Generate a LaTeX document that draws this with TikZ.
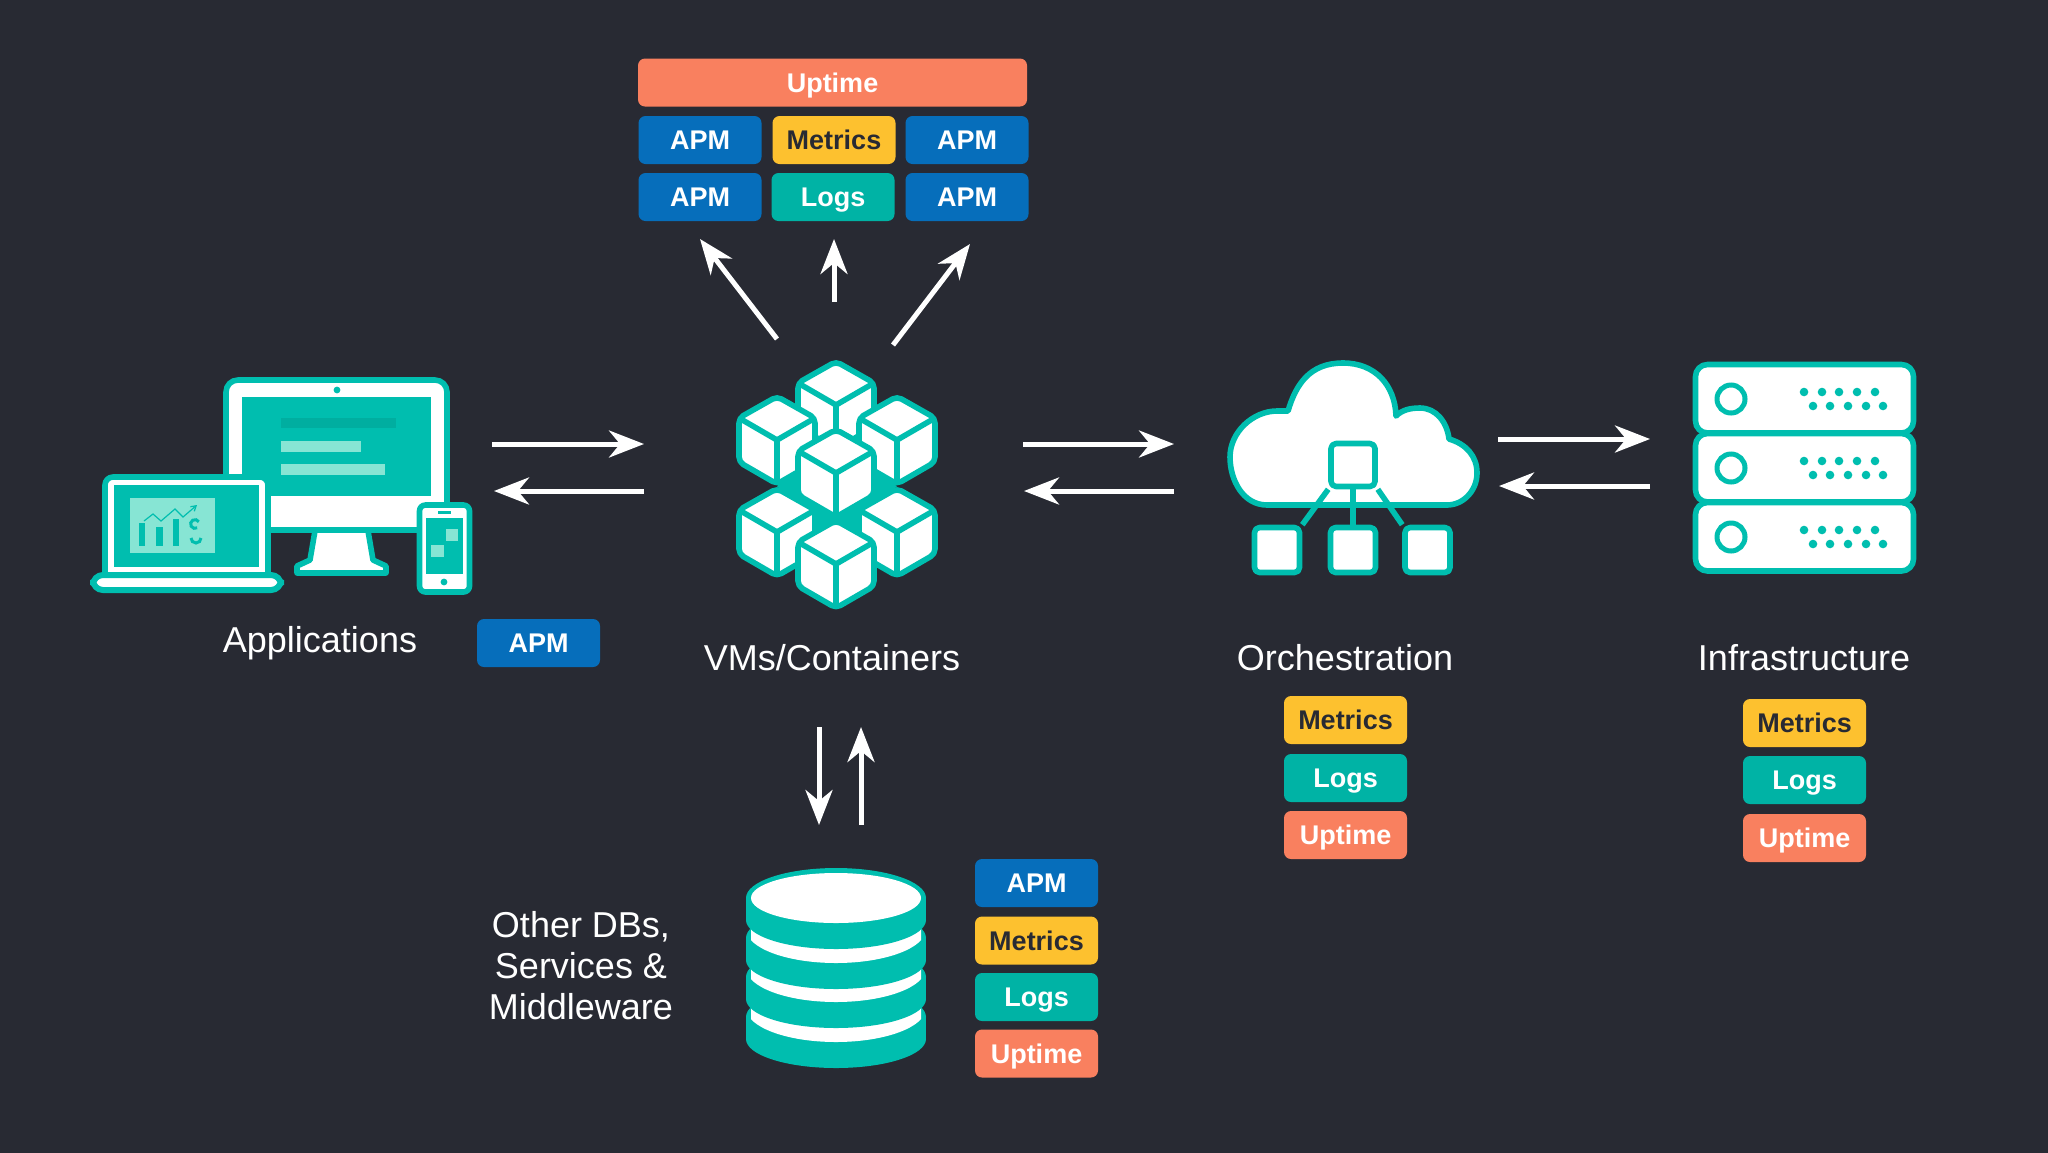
\documentclass[tikz,border=0pt]{standalone}
\usepackage{fontspec}
\setmainfont{Liberation Sans}
\usetikzlibrary{arrows.meta}
\definecolor{bgc}{RGB}{40,42,51}
\definecolor{tl}{RGB}{0,190,175}
\definecolor{tld}{RGB}{0,174,160}
\definecolor{tll}{RGB}{135,229,212}
\definecolor{bluec}{RGB}{6,110,187}
\definecolor{yelc}{RGB}{253,193,47}
\definecolor{orac}{RGB}{249,128,95}
\definecolor{logc}{RGB}{0,179,165}
\tikzset{
  ic/.style={draw=tl,fill=white,line width=2.8pt,line join=round},
  badge/.style={rounded corners=3.5pt,minimum width=61.5pt,minimum height=24pt,inner sep=0pt,text=white,text height=9.6pt,text depth=0pt,font=\fontsize{13.5}{15}\selectfont\bfseries},
  apm/.style={badge,fill=bluec},
  met/.style={badge,fill=yelc,text=bgc},
  lgs/.style={badge,fill=logc},
  upt/.style={badge,fill=orac},
  lab/.style={text=white,font=\fontsize{18}{20.5}\selectfont,align=center,inner sep=0pt},
  lab1/.style={lab,text height=13pt,text depth=0pt},
  arr/.style={draw=white,line width=2.5pt,-{Stealth[length=17.5pt,width=13.5pt,inset=5.5pt]}},
  sq/.style={ic,rounded corners=2.5pt,minimum width=22.5pt,minimum height=22.5pt,inner sep=0pt},
  pics/cube/.style={code={
    \draw[ic,rounded corners=2.5pt] (0,-43.5)--(38,-22)--(38,22)--(0,44)--(-38,22)--(-38,-22)--cycle;
    \draw[draw=tl,line width=2.8pt,line join=round] (-38,-22)--(0,0)--(38,-22) (0,0)--(0,44);
  }}
}
\begin{document}
\begin{tikzpicture}[x=0.5pt,y=-0.5pt]
\useasboundingbox (0,0) rectangle (2048,1152);
\fill[bgc] (-10,-10) rectangle (2058,1162);

% top badges
\node[upt,minimum width=194.5pt] (up) at (832.5,82.5) {Uptime};
\node[apm] (a1) at (700,140) {APM};
\node[met] (m1) at (834,140) {Metrics};
\node[apm] (a2) at (967,140) {APM};
\node[apm] (a3) at (700,197) {APM};
\node[lgs] (l1) at (833,197) {Logs};
\node[apm] (a4) at (967,197) {APM};

% up arrows
\coordinate (t1) at (777,339); \coordinate (h1) at (700,239);
\coordinate (t2) at (834,302); \coordinate (h2) at (834,239);
\coordinate (t3) at (893,345); \coordinate (h3) at (970,244);
\draw[arr] (t1)--(h1);
\draw[arr] (t2)--(h2);
\draw[arr] (t3)--(h3);

% monitor
\draw[ic] (316,525)--(310,560)--(297,566)--(297,573)--(386,573)--(386,566)--(373,560)--(367,525)--cycle;
\draw[ic,rounded corners=6pt] (226,380) rectangle (447,530);
\fill[tl] (242,397) rectangle (431,496);
\fill[tl] (337,390) circle (1.7pt);
\fill[tld] (281,418) rectangle (396,428);
\fill[tll] (281,441) rectangle (361,452);
\fill[tll] (281,464) rectangle (385,475);
% laptop
\draw[ic,rounded corners=4pt] (105,477) rectangle (268,590);
\fill[tl] (114,485) rectangle (259,567);
\fill[tll] (130,498) rectangle (215,553);
\fill[tl] (139,523) rectangle (145,546);
\fill[tl] (156,527) rectangle (163,546);
\fill[tl] (173,519) rectangle (179,546);
\draw[tl,line width=0.6pt,-{Straight Barb[length=2.5pt,width=3pt]}] (144,521)--(153,514)--(161,521)--(175,509)--(183,517)--(197,505);
\draw[tl,line width=1.5pt] (198.8,521.8) arc[start angle=30,end angle=300,radius=2.2pt];
\draw[tl,line width=1.5pt] (191,538) arc[start angle=180,end angle=360,radius=2.5pt];
\draw[draw=tl,fill=white,line width=3pt,rounded corners=5pt] (93,575) rectangle (281,590);
% phone
\draw[ic,rounded corners=3pt] (419.5,505) rectangle (469.5,592);
\fill[tl] (426,518) rectangle (463,574);
\fill[tl] (438,511) rectangle (451,514);
\fill[tl] (444,582) circle (1.7pt);
\fill[tll] (446,529) rectangle (458,541);
\fill[tll] (431,545) rectangle (444,557);
\coordinate (app) at (320,639);
\node[lab1] (appl) at (app) {Applications};
\node[apm] (a5) at (538.5,643) {APM};

% arrows app - vm
\coordinate (p1) at (492,444); \coordinate (p2) at (644,444);
\coordinate (p3) at (644,491); \coordinate (p4) at (494,491);
\draw[arr] (p1)--(p2);
\draw[arr] (p3)--(p4);

% cubes
\pic at (836,405) {cube};
\pic at (777,440) {cube};
\pic at (897,440) {cube};
\fill[tl] (777,486)--(798,473)--(875,473)--(897,486)--(875,510)--(858,530)--(813,530)--(798,510)--cycle;
\pic at (777,532) {cube};
\pic at (897,532) {cube};
\pic at (836,473) {cube};
\pic at (836,564) {cube};
\node[lab1] (vm) at (832,657) {VMs/Containers};

% arrows vm - orch
\coordinate (q1) at (1023,444); \coordinate (q2) at (1174,444);
\coordinate (q3) at (1174,491); \coordinate (q4) at (1024,491);
\draw[arr] (q1)--(q2);
\draw[arr] (q3)--(q4);

% cloud
\draw[ic] (1267,505) .. controls (1243,505) and (1230,480) .. (1230,457)
  .. controls (1230,432) and (1253,411) .. (1277,411) -- (1288,411)
  .. controls (1296,384) and (1310,363) .. (1343,363)
  .. controls (1375,363) and (1395,385) .. (1396,416)
  .. controls (1402,410) and (1410,408) .. (1420,408)
  .. controls (1436,408) and (1447,422) .. (1449,439)
  .. controls (1466,444) and (1477,456) .. (1477,473)
  .. controls (1477,491) and (1463,505) .. (1447,505) -- cycle;
\node[sq,minimum width=22pt,minimum height=21.5pt] (cc) at (1353,465) {};
\node[sq] (cl) at (1277,550) {};
\node[sq] (cm) at (1353,550) {};
\node[sq] (cr) at (1427.5,550) {};
\draw[tl,line width=2.8pt] (cc.south west)--(cl.north east);
\draw[tl,line width=2.8pt] (cc.south)--(cm.north);
\draw[tl,line width=2.8pt] (cc.south east)--(cr.north west);
\node[lab1] (orch) at (1345,657) {Orchestration};
\node[met] (m2) at (1345.5,720) {Metrics};
\node[lgs] (l2) at (1345.5,778) {Logs};
\node[upt] (u2) at (1345.5,835) {Uptime};

% arrows orch - infra
\coordinate (r1) at (1498,439); \coordinate (r2) at (1650,439);
\coordinate (r3) at (1650,486); \coordinate (r4) at (1499,486);
\draw[arr] (r1)--(r2);
\draw[arr] (r3)--(r4);

% servers
\foreach \dy in {0,69,138}{
  \draw[ic,rounded corners=6pt] (1695.5,{364.5+\dy}) rectangle (1913.5,{433+\dy});
  \draw[draw=tl,line width=2.5pt] (1731,{399+\dy}) circle (7pt);
  \foreach \xx in {1804,1822,1839,1857,1875}{\fill[tl] (\xx,{392+\dy}) circle (2.15pt);}
  \foreach \xx in {1813,1830,1848,1866,1883}{\fill[tl] (\xx,{406+\dy}) circle (2.15pt);}
}
\node[lab1] (inf) at (1804,657) {Infrastructure};
\node[met] (m3) at (1804.5,723) {Metrics};
\node[lgs] (l3) at (1804.5,780) {Logs};
\node[upt] (u3) at (1804.5,838) {Uptime};

% vertical arrows
\coordinate (d1) at (819,727); \coordinate (d2) at (819,825);
\coordinate (e1) at (861,825); \coordinate (e2) at (861,727);
\draw[arr] (d1)--(d2);
\draw[arr] (e1)--(e2);

% database
\foreach \c in {1017,977,938}{
  \fill[tl] (836,\c) ellipse [x radius=45pt,y radius=15pt];
  \fill[tl] (746,\c) rectangle (926,{\c+22});
  \fill[tl] (836,{\c+22}) ellipse [x radius=45pt,y radius=14.5pt];
  \begin{scope}
    \clip[rounded corners=2pt] (751,{\c-45}) rectangle (921,{\c+30});
    \fill[white] (836,{\c-9}) ellipse [x radius=45pt,y radius=17pt];
  \end{scope}
}
\fill[tl] (836,898) ellipse [x radius=45pt,y radius=15pt];
\fill[tl] (746,898) rectangle (926,920);
\fill[tl] (836,920) ellipse [x radius=45pt,y radius=14.5pt];
\fill[white] (836,898) ellipse [x radius=42.5pt,y radius=12.5pt];
\node[lab] (db) at (581,966) {Other DBs,\\Services \&\\Middleware};
\node[apm] (a6) at (1036.5,883) {APM};
\node[met] (m4) at (1036.5,940.5) {Metrics};
\node[lgs] (l4) at (1036.5,997) {Logs};
\node[upt] (u4) at (1036.5,1053.5) {Uptime};
\end{tikzpicture}
\end{document}
